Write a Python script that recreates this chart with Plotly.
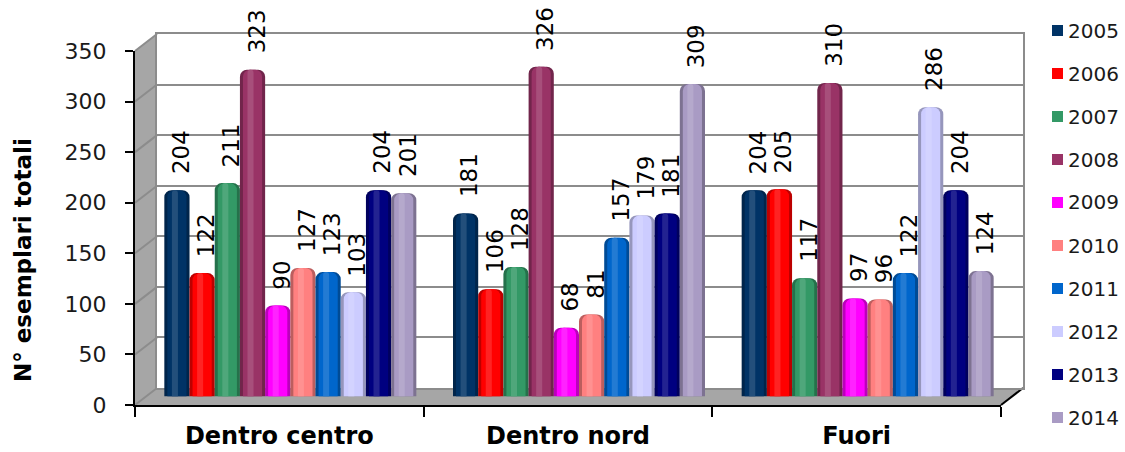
import plotly.graph_objects as go

# ---- data -------------------------------------------------------------
categories = ["Dentro centro", "Dentro nord", "Fuori"]
years = ["2005", "2006", "2007", "2008", "2009", "2010", "2011", "2012", "2013", "2014"]

dentro_centro = [204, 122, 211, 323, 90, 127, 123, 103, 204, 201]
dentro_nord = [181, 106, 128, 326, 68, 81, 157, 179, 181, 309]
fuori = [204, 205, 117, 310, 97, 96, 122, 286, 204, 124]

colors = ["#003366", "#FF0000", "#339966", "#993366", "#FF00FF",
          "#FF8080", "#0066CC", "#CCCCFF", "#000080", "#A99BC4"]

y_title = "N° esemplari totali"
y_max = 350
y_step = 50

# ---- geometry of the pseudo-3D box (pixels) ---------------------------
W, H = 1125, 452
FRONT = dict(x0=135, x1=1001, yb=405, yt=51)   # front plane: axis with labels
BACK = dict(x0=157, x1=1023, yb=388, yt=34)    # back wall with gridlines
MID = {k: (FRONT[k] + BACK[k]) / 2 for k in FRONT}  # plane where bars stand


def px(x):
    return x / W


def py(y):
    return 1 - y / H


def dom_x(p):
    return [px(p["x0"]), px(p["x1"])]


def dom_y(p):
    return [py(p["yb"]), py(p["yt"])]


FONT = "DejaVu Sans"
GROUP = 0.873
BW = GROUP / len(years)
CAP = 7  # rounded cylinder top, px


def shade(hex_color, f):
    """Scale a colour towards black (f<1) or white (f>1)."""
    h = hex_color.lstrip("#")
    r, g, b = (int(h[i:i + 2], 16) for i in (0, 2, 4))
    if f <= 1:
        r, g, b = (int(c * f) for c in (r, g, b))
    else:
        t = f - 1
        r, g, b = (int(c + (255 - c) * t) for c in (r, g, b))
    return f"rgb({r},{g},{b})"


fig = go.Figure()

# invisible anchors so every subplot is built
fig.add_trace(go.Scatter(x=[0], y=[0], xaxis="x", yaxis="y", mode="markers",
                         marker=dict(size=1, opacity=0), showlegend=False, hoverinfo="skip"))
fig.add_trace(go.Scatter(x=categories, y=[0, 0, 0], xaxis="x2", yaxis="y2", mode="markers",
                         marker=dict(size=1, opacity=0), showlegend=False, hoverinfo="skip"))

series = list(zip(dentro_centro, dentro_nord, fuori))
annotations = []
shapes = []
for i, (year, col) in enumerate(zip(years, colors)):
    vals = list(series[i])
    left = -GROUP / 2 + i * BW
    # cylinder: dark shell, main colour body, soft highlight
    fig.add_trace(go.Bar(x=categories, y=vals, xaxis="x3", yaxis="y3", name=year,
                         offset=left, width=BW, showlegend=False,
                         marker=dict(color=shade(col, 0.74), line=dict(width=0), cornerradius=CAP),
                         hoverinfo="skip"))
    fig.add_trace(go.Bar(x=categories, y=vals, xaxis="x3", yaxis="y3", name=year,
                         offset=left + BW * 0.12, width=BW * 0.76, showlegend=False,
                         marker=dict(color=col, line=dict(width=0), cornerradius=CAP),
                         hoverinfo="skip"))
    fig.add_trace(go.Bar(x=categories, y=vals, xaxis="x3", yaxis="y3", name=year,
                         offset=left + BW * 0.3, width=BW * 0.24, showlegend=False,
                         marker=dict(color=shade(col, 1.14), line=dict(width=0), cornerradius=3),
                         hoverinfo="skip"))
    for j, v in enumerate(vals):
        annotations.append(dict(
            x=j + left + BW / 2, y=v, xref="x3", yref="y3", text=str(v),
            textangle=-90, showarrow=False, xanchor="center", yanchor="bottom",
            xshift=4, yshift=14, font=dict(family=FONT, size=23, color="#000000")))

    # legend entry: colour square and year
    ly = 30.5 + 43 * i
    shapes.append(dict(type="rect", xref="paper", yref="paper",
                       x0=px(1052), x1=px(1063), y0=py(ly + 5.5), y1=py(ly - 5.5),
                       fillcolor=col, line=dict(width=0)))
    annotations.append(dict(x=px(1066), y=py(ly), xref="paper", yref="paper", text=year,
                            showarrow=False, xanchor="left", yanchor="middle",
                            font=dict(family=FONT, size=20, color="#1A1A1A")))

annotations.append(dict(
    x=px(23), y=py(260), xref="paper", yref="paper", text="<b>%s</b>" % y_title,
    textangle=-90, showarrow=False, xanchor="center", yanchor="middle",
    font=dict(family=FONT, size=23, color="#000000")))

# ---- walls and floor ---------------------------------------------------
wall_grey = "#A6A6A6"
grid_grey = "#8C8C8C"


def poly(points, fill, line_color=None, width=0):
    path = "M " + " L ".join(f"{px(x)},{py(y)}" for x, y in points) + " Z"
    return dict(type="path", path=path, xref="paper", yref="paper", layer="below",
                fillcolor=fill, line=dict(color=line_color or fill, width=width))


# left side wall
shapes.append(poly([(FRONT["x0"], FRONT["yb"]), (BACK["x0"], BACK["yb"]),
                    (BACK["x0"], BACK["yt"]), (FRONT["x0"], FRONT["yt"])], wall_grey))
# floor
shapes.append(poly([(FRONT["x0"], FRONT["yb"]), (BACK["x0"], BACK["yb"]),
                    (BACK["x1"], BACK["yb"]), (FRONT["x1"], FRONT["yb"])], wall_grey))
# gridline continuations on the side wall
for k in range(0, y_max + 1, y_step):
    fy = FRONT["yb"] + (FRONT["yt"] - FRONT["yb"]) * k / y_max
    by = BACK["yb"] + (BACK["yt"] - BACK["yb"]) * k / y_max
    shapes.append(dict(type="line", xref="paper", yref="paper", layer="below",
                       x0=px(FRONT["x0"]), y0=py(fy), x1=px(BACK["x0"]), y1=py(by),
                       line=dict(color=grid_grey, width=2)))
# right edge of the floor
shapes.append(dict(type="line", xref="paper", yref="paper", layer="below",
                   x0=px(FRONT["x1"]), y0=py(FRONT["yb"]), x1=px(BACK["x1"]), y1=py(BACK["yb"]),
                   line=dict(color="#000000", width=2)))

tick_font = dict(family=FONT, size=22, color="#1A1A1A")

fig.update_layout(
    width=W, height=H,
    margin=dict(l=0, r=0, t=0, b=0, pad=0),
    paper_bgcolor="#FFFFFF", plot_bgcolor="rgba(0,0,0,0)",
    barmode="overlay",
    showlegend=False,
    # back wall
    xaxis=dict(domain=dom_x(BACK), anchor="y", range=[0, 1], showgrid=False,
               zeroline=False, showticklabels=False, ticks="", automargin=False,
               showline=True, mirror=True, linecolor=grid_grey, linewidth=2),
    yaxis=dict(domain=dom_y(BACK), anchor="x", range=[0, y_max], dtick=y_step,
               showgrid=True, gridcolor=grid_grey, gridwidth=2, zeroline=False,
               showticklabels=False, ticks="", automargin=False,
               showline=True, mirror=True, linecolor=grid_grey, linewidth=2),
    # front axes with labels
    xaxis2=dict(domain=dom_x(FRONT), anchor="y2", type="category",
                categoryorder="array", categoryarray=categories, range=[-0.5, 2.5],
                tickson="boundaries", ticks="outside", ticklen=10, tickwidth=2,
                tickcolor="#000000", showline=True, linecolor="#000000", linewidth=2,
                showgrid=False, zeroline=False, ticklabelstandoff=8, automargin=False,
                tickfont=dict(family=FONT, size=24, color="#000000", weight="bold")),
    yaxis2=dict(domain=dom_y(FRONT), anchor="x2", range=[0, y_max], dtick=y_step,
                ticks="outside", ticklen=8, tickwidth=2, tickcolor="#000000",
                showline=True, linecolor="#000000", linewidth=2, showgrid=False,
                zeroline=False, ticklabelstandoff=14, automargin=False, tickfont=tick_font),
    # bars
    xaxis3=dict(domain=dom_x(MID), anchor="y3", type="category",
                categoryorder="array", categoryarray=categories, range=[-0.5, 2.5],
                visible=False, automargin=False),
    yaxis3=dict(domain=dom_y(MID), anchor="x3", range=[0, y_max], visible=False,
                automargin=False),
    shapes=shapes,
    annotations=annotations,
)

fig.write_html("out.html")
